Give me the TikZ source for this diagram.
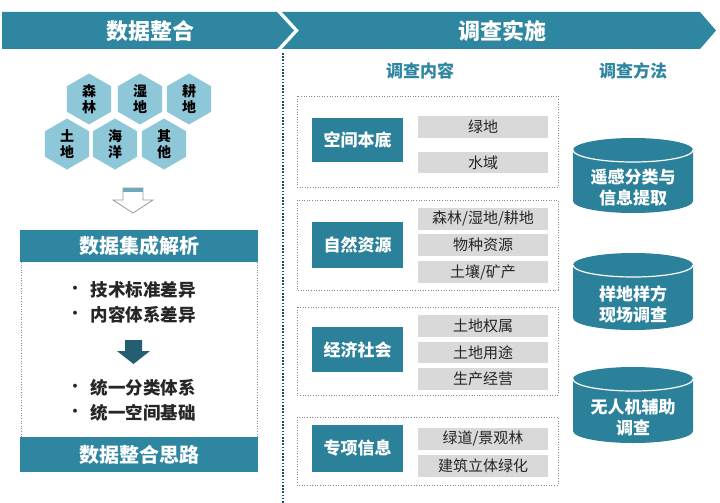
\documentclass[tikz,border=0pt]{standalone}
\usepackage{fontspec}
\setmainfont{Noto Sans CJK SC}
\usetikzlibrary{shapes.geometric}
\definecolor{teal1}{HTML}{2E86A0}
\definecolor{teal2}{HTML}{2B809A}
\definecolor{tealdk}{HTML}{245E72}
\definecolor{hexblue}{HTML}{8EC7D7}
\definecolor{gbox}{HTML}{D9D9D9}
\definecolor{txtdk}{HTML}{262626}
\definecolor{dotgray}{HTML}{8A8A8A}
\tikzset{
  hexa/.style={regular polygon, regular polygon sides=6, shape border rotate=90,
    minimum size=51pt, inner sep=0pt, fill=hexblue, draw=none,
    font=\fontsize{14}{16}\selectfont\bfseries, text=black, align=center},
  tealbox/.style={fill=teal2, draw=none, text=white, inner sep=0pt,
    font=\fontsize{17}{20}\selectfont\bfseries},
  graybox/.style={fill=gbox, draw=none, text=txtdk, inner sep=0pt,
    font=\fontsize{15}{18}\selectfont},
  dotbox/.style={draw=dotgray, line width=0.6pt, dotted},
  bartext/.style={text=white, font=\fontsize{20}{24}\selectfont\bfseries},
  bantext/.style={text=white, font=\fontsize{22}{26}\selectfont\bfseries},
  coltitle/.style={text=teal1, font=\fontsize{17}{20}\selectfont\bfseries},
  bullettext/.style={text=txtdk, anchor=west, font=\fontsize{17.5}{20}\selectfont\bfseries},
  bulletdot/.style={text=txtdk, font=\fontsize{14}{16}\selectfont\bfseries},
  cyltext/.style={text=white, align=center, font=\fontsize{17}{21}\selectfont\bfseries},
}
\begin{document}
\begin{tikzpicture}[x=1pt,y=-1pt]
\useasboundingbox (0,0) rectangle (720,503);
\fill[white] (0,0) rectangle (720,503);
% banners
\fill[teal1] (2,12) -- (277,12) -- (294,30.5) -- (277,49) -- (2,49) -- cycle;
\fill[teal1] (282,12) -- (700,12) -- (716,30.5) -- (700,49) -- (282,49) -- (299,30.5) -- cycle;
\node[bantext] (ban1) at (150,31) {数据整合};
\node[bantext] (ban2) at (502,31) {调查实施};
% separator
\draw[draw=tealdk!80!black, line width=1.6pt, dash pattern=on 1.6pt off 1.6pt] (283,53) -- (283,503);
% hexagons
\node[hexa] (h1) at (89,99) {森\\林};
\node[hexa] (h2) at (140,99) {湿\\地};
\node[hexa] (h3) at (189,99) {耕\\地};
\node[hexa] (h4) at (67,144) {土\\地};
\node[hexa] (h5) at (115,144) {海\\洋};
\node[hexa] (h6) at (164,144) {其\\他};
% hollow arrow
\draw[draw=gray!80, fill=white, line width=0.8pt] (123,188) -- (143,188) -- (143,200) -- (153,200) -- (133,213) -- (113,200) -- (123,200) -- cycle;
\fill[teal1!70] (123.4,188.4) rectangle (142.6,191.5);
% left panel
\fill[teal1] (20,230) rectangle (258,262);
\node[bartext] (p1) at (139,246) {数据集成解析};
\fill[teal1] (20,437) rectangle (258,472);
\node[bartext] (p2) at (139,455) {数据整合思路};
\draw[dotbox] (21,262) -- (21,437);
\draw[dotbox] (257,262) -- (257,437);
\node[bulletdot] (b1) at (75,290) {•};
\node[bullettext] (t1) at (87,290) {技术标准差异};
\node[bulletdot] (b2) at (75,315) {•};
\node[bullettext] (t2) at (87,315) {内容体系差异};
\node[bulletdot] (b3) at (75,388) {•};
\node[bullettext] (t3) at (87,388) {统一分类体系};
\node[bulletdot] (b4) at (75,413) {•};
\node[bullettext] (t4) at (87,413) {统一空间基础};
\fill[tealdk] (125,340) -- (142,340) -- (142,351) -- (150,351) -- (133.5,364) -- (117,351) -- (125,351) -- cycle;
% column titles
\node[coltitle] (c1) at (420,71) {调查内容};
\node[coltitle] (c2) at (633,71) {调查方法};
% group 1
\draw[dotbox] (297,96) rectangle (558,187);
\node[tealbox, minimum width=91pt, minimum height=44pt] (g1) at (357.5,140) {空间本底};
\node[graybox, minimum width=130pt, minimum height=22pt] (g1a) at (483,127) {绿地};
\node[graybox, minimum width=130pt, minimum height=21pt] (g1b) at (483,162.5) {水域};
% group 2
\draw[dotbox] (297,200) rectangle (558,290);
\node[tealbox, minimum width=91pt, minimum height=46pt] (g2) at (357.5,245) {自然资源};
\node[graybox, minimum width=130pt, minimum height=22pt] (g2a) at (483,219) {森林/湿地/耕地};
\node[graybox, minimum width=130pt, minimum height=22pt] (g2b) at (483,245) {物种资源};
\node[graybox, minimum width=130pt, minimum height=22pt] (g2c) at (483,272) {土壤/矿产};
% group 3
\draw[dotbox] (297,307) rectangle (558,395);
\node[tealbox, minimum width=91pt, minimum height=45pt] (g3) at (357.5,349.5) {经济社会};
\node[graybox, minimum width=130pt, minimum height=22pt] (g3a) at (483,326) {土地权属};
\node[graybox, minimum width=130pt, minimum height=21pt] (g3b) at (483,352.5) {土地用途};
\node[graybox, minimum width=130pt, minimum height=22pt] (g3c) at (483,379) {生产经营};
% group 4
\draw[dotbox] (297,417) rectangle (558,485);
\node[tealbox, minimum width=91pt, minimum height=47pt] (g4) at (357.5,448.5) {专项信息};
\node[graybox, minimum width=130pt, minimum height=22pt] (g4a) at (483,439) {绿道/景观林};
\node[graybox, minimum width=130pt, minimum height=22pt] (g4b) at (483,466) {建筑立体绿化};
% cylinders
\foreach \t/\b in {150/201, 265/318, 379/431}{
  \fill[teal2] (573,\t) -- (573,\b) arc[start angle=180, end angle=0, x radius=60, y radius=12] -- (693,\t) arc[start angle=0, end angle=-180, x radius=60, y radius=12] -- cycle;
  \draw[white, line width=1.2pt] (573,\t) arc[start angle=180, end angle=0, x radius=60, y radius=12];
}
\node[cyltext] (m1) at (633,187.5) {遥感分类与\\信息提取};
\node[cyltext] (m2) at (633,304) {样地样方\\现场调查};
\node[cyltext] (m3) at (633,417.5) {无人机辅助\\调查};
\end{tikzpicture}
\end{document}
